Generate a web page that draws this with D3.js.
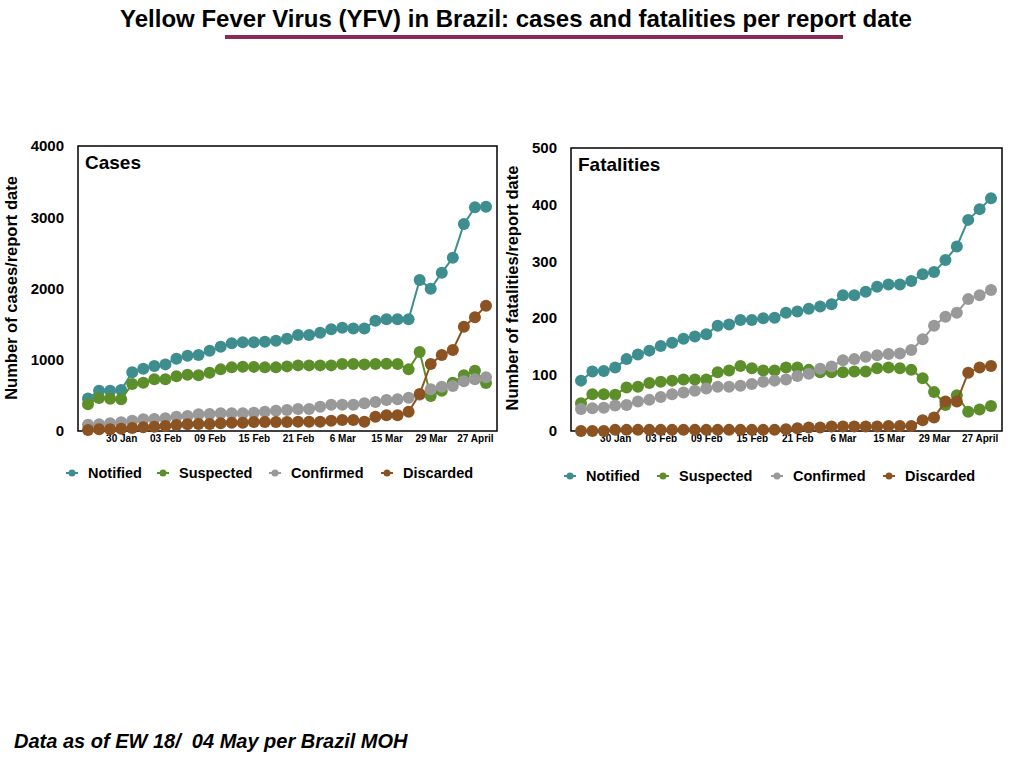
<!DOCTYPE html>
<html>
<head>
<meta charset="utf-8">
<script src="https://cdn.jsdelivr.net/npm/d3@7"></script>
<style>
  body { margin: 0; background: #fff; }
  svg text { font-family: "Liberation Sans", Arial, Helvetica, sans-serif; }
</style>
</head>
<body>
<div id="chart"></div>
<script>
// DATA
var reports = d3.range(1, 38); // 37 report dates
var tickLabels = ["", "", "", "30 Jan", "", "", "", "03 Feb", "", "", "", "09 Feb", "", "", "", "15 Feb",
  "", "", "", "21 Feb", "", "", "", "6 Mar", "", "", "", "15 Mar", "", "", "", "29 Mar", "", "", "", "27 April", ""];
var seriesNames = ["Notified", "Suspected", "Confirmed", "Discarded"];
var seriesColors = ["#3e8e90", "#5c8f2a", "#999999", "#8c5322"];

var casesNotified = [455, 566, 566, 575, 823, 875, 912, 935, 1015, 1057, 1067, 1127, 1183, 1231, 1245, 1245, 1254, 1268, 1296,
  1347, 1347, 1380, 1427, 1450, 1440, 1440, 1548, 1567, 1567, 1567, 2119, 1997, 2222, 2432, 2905, 3139, 3148];
var casesSuspected = [374, 463, 454, 444, 660, 678, 725, 725, 767, 791, 781, 818, 865, 893, 903, 900, 893, 893, 907,
  921, 921, 921, 921, 940, 940, 935, 940, 944, 940, 865, 1109, 491, 566, 678, 781, 847, 674];
var casesConfirmed = [89, 94, 108, 122, 145, 164, 169, 178, 201, 211, 234, 239, 248, 248, 248, 257, 271, 285, 295,
  309, 309, 341, 369, 369, 369, 388, 407, 435, 444, 468, 510, 585, 622, 632, 697, 725, 753];
var casesDiscarded = [14, 23, 23, 33, 42, 51, 61, 70, 84, 94, 98, 98, 108, 117, 117, 126, 126, 126, 126,
  131, 131, 131, 145, 154, 154, 131, 201, 220, 220, 271, 519, 940, 1067, 1137, 1464, 1596, 1759];

var fatalNotified = [89, 105, 106, 112, 127, 135, 142, 150, 156, 163, 167, 171, 186, 188, 196, 196, 199, 200, 209,
  211, 216, 220, 224, 240, 240, 246, 255, 259, 259, 265, 277, 281, 302, 326, 373, 392, 411];
var fatalSuspected = [49, 65, 65, 64, 77, 78, 85, 87, 89, 91, 91, 91, 104, 107, 115, 111, 107, 107, 112,
  112, 108, 104, 104, 104, 105, 105, 111, 112, 111, 108, 93, 69, 46, 63, 34, 38, 44];
var fatalConfirmed = [39, 40, 41, 45, 46, 52, 55, 60, 65, 68, 71, 75, 78, 78, 80, 83, 87, 89, 91,
  97, 101, 110, 114, 125, 127, 131, 134, 136, 137, 143, 162, 186, 202, 209, 233, 240, 249];
var fatalDiscarded = [0, 0, 0, 2, 2, 2, 2, 2, 2, 2, 2, 2, 2, 2, 2, 2, 2, 2, 3,
  5, 6, 6, 8, 8, 8, 8, 8, 9, 9, 9, 19, 24, 52, 52, 103, 112, 115];

var casesTicks = [0, 1000, 2000, 3000, 4000];
var fatalTicks = [0, 100, 200, 300, 400, 500];

// CHART SETUP
var svg = d3.select("#chart").append("svg").attr("width", 1024).attr("height", 768);

// TITLE
svg.append("text")
  .attr("x", 516).attr("y", 27)
  .attr("text-anchor", "middle")
  .style("font-family", "'Liberation Sans Narrow', 'Arial Narrow', sans-serif")
  .style("font-weight", "bold")
  .style("font-size", "24px")
  .text("Yellow Fever Virus (YFV) in Brazil: cases and fatalities per report date");
svg.append("rect")
  .attr("x", 225).attr("y", 35).attr("width", 618).attr("height", 4)
  .attr("fill", "#8b2a55");

// FOOTNOTE
svg.append("text")
  .attr("x", 14).attr("y", 748)
  .style("font-weight", "bold").style("font-style", "italic").style("font-size", "20px")
  .text("Data as of EW 18/\u00a0 04 May per Brazil MOH");

function drawPanel(opt) {
  var x = d3.scalePoint().domain(reports).range([opt.x0 + 10, opt.x1 - 11]);
  var y = d3.scaleLinear().domain([0, opt.max]).range([431, opt.top]);
  var g = svg.append("g");

  // frame
  g.append("rect")
    .attr("x", opt.x0).attr("y", opt.top)
    .attr("width", opt.x1 - opt.x0).attr("height", 431 - opt.top)
    .attr("fill", "none").attr("stroke", "black").attr("stroke-width", 1.5);

  // Y AXIS
  var yAxis = d3.axisLeft(y).tickValues(opt.ticks).tickSize(0).tickPadding(14).tickFormat(d3.format("d"));
  var ya = g.append("g").attr("transform", "translate(" + opt.x0 + ",0)").call(yAxis);
  ya.select(".domain").remove();
  ya.selectAll("text").style("font-size", "15px").style("font-weight", "bold")
    .style("font-family", "'Liberation Sans', Arial, sans-serif").attr("fill", "black");

  // X AXIS
  var xAxis = d3.axisBottom(x).tickSize(0).tickPadding(4).tickFormat((d, i) => tickLabels[i]);
  var xa = g.append("g").attr("transform", "translate(0,431)").call(xAxis);
  xa.select(".domain").remove();
  xa.selectAll("text").style("font-size", "10px").style("font-weight", "bold")
    .style("font-family", "'Liberation Sans', Arial, sans-serif").attr("fill", "black");

  // axis title
  g.append("text")
    .attr("transform", "translate(" + opt.titleX + "," + opt.titleY + ") rotate(-90)")
    .attr("text-anchor", "middle")
    .style("font-size", "16.5px").style("font-weight", "bold")
    .text(opt.yTitle);

  // panel label
  g.append("text")
    .attr("x", opt.x0 + 7).attr("y", opt.top + 23)
    .style("font-size", "19px").style("font-weight", "bold")
    .text(opt.label);

  // LINES + POINTS
  var line = d3.line().x((d, i) => x(reports[i])).y((d) => y(d));
  opt.series.forEach(function (vals, si) {
    g.append("path")
      .attr("d", line(vals))
      .attr("fill", "none")
      .attr("stroke", seriesColors[si])
      .attr("stroke-width", 2);
    g.selectAll(".pt" + si)
      .data(vals)
      .enter()
      .append("circle")
      .attr("cx", (d, i) => x(reports[i]))
      .attr("cy", (d) => y(d))
      .attr("r", 6)
      .attr("fill", seriesColors[si]);
  });

  // LEGEND
  var leg = g.append("g").attr("transform", "translate(0," + opt.legY + ")");
  seriesNames.forEach(function (name, si) {
    var lx = opt.legX[si];
    leg.append("line")
      .attr("x1", lx - 6).attr("x2", lx + 6)
      .attr("stroke", seriesColors[si]).attr("stroke-width", 2);
    leg.append("circle").attr("cx", lx).attr("r", 3.5).attr("fill", seriesColors[si]);
    leg.append("text")
      .attr("x", lx + 16).attr("y", 5)
      .style("font-size", "14.5px").style("font-weight", "bold")
      .text(name);
  });
}

drawPanel({
  x0: 78, x1: 497, top: 146, max: 4000, ticks: casesTicks,
  label: "Cases", yTitle: "Number of cases/report date", titleX: 17, titleY: 288,
  series: [casesNotified, casesSuspected, casesConfirmed, casesDiscarded],
  legY: 473, legX: [72, 163, 275, 387]
});

drawPanel({
  x0: 571, x1: 1002, top: 148, max: 500, ticks: fatalTicks,
  label: "Fatalities", yTitle: "Number of fatalities/report date", titleX: 518, titleY: 288,
  series: [fatalNotified, fatalSuspected, fatalConfirmed, fatalDiscarded],
  legY: 476, legX: [570, 663, 777, 889]
});
</script>
</body>
</html>
